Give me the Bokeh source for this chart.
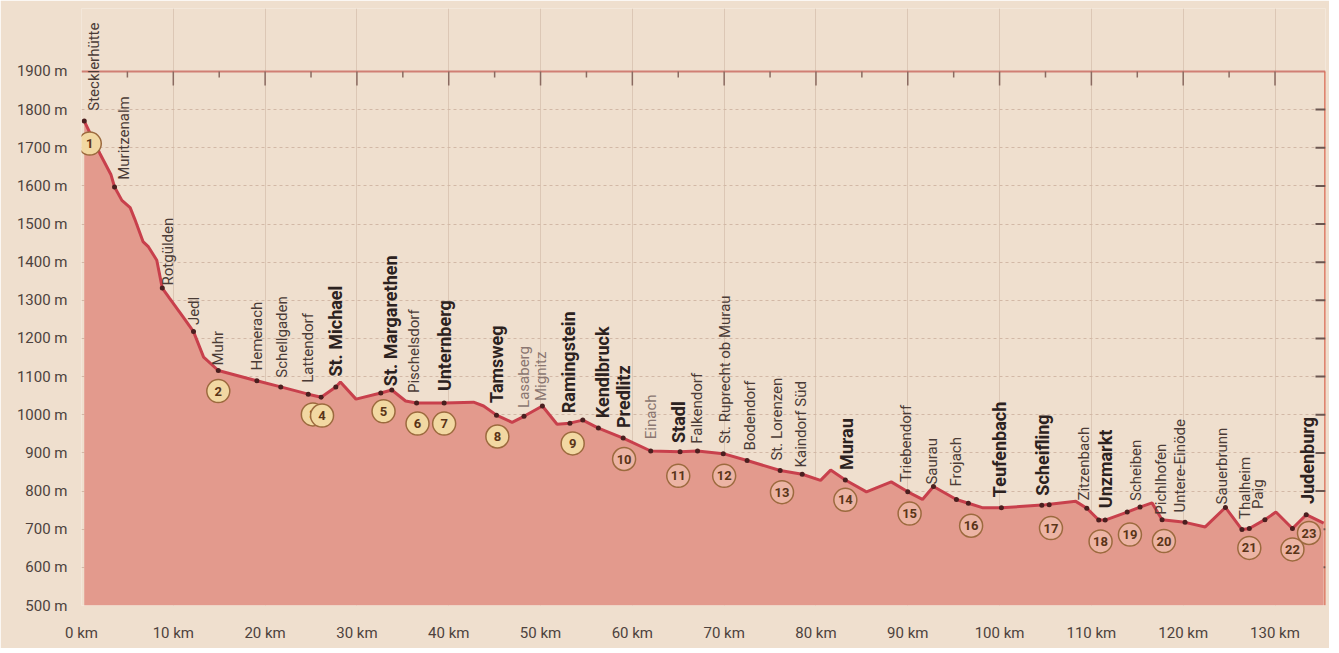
import math
from bokeh.plotting import figure
from bokeh.models import Range1d, FixedTicker, ColumnDataSource
from bokeh.core.properties import value
from bokeh.embed import file_html
from bokeh.resources import INLINE

# ---------------- data ----------------
profile_km = [0.3, 2.0, 3.2, 3.6, 4.4, 5.3, 5.8, 6.7, 7.3, 8.2, 8.8, 9.6, 11.1, 12.2, 13.3,
              14.9, 19.1, 21.7, 24.7, 26.1, 27.7, 28.2, 29.9, 32.6, 33.8, 35.3, 36.5, 39.5,
              42.7, 43.8, 45.2, 46.9, 48.2, 50.2, 51.8, 53.2, 54.6, 56.3, 59.0, 62.0, 65.2,
              67.1, 69.9, 72.5, 76.1, 78.5, 80.5, 81.6, 83.2, 85.5, 88.2, 90.0, 91.6, 92.8,
              95.3, 96.6, 98.2, 100.2, 105.0, 108.3, 109.5, 110.8, 111.5, 113.9, 115.3,
              116.6, 117.7, 120.2, 122.4, 124.6, 126.4, 127.2, 128.9, 130.1, 131.9, 133.4,
              135.3]
profile_elev = [1770, 1685, 1630, 1597, 1562, 1543, 1513, 1454, 1440, 1405, 1332, 1305, 1255,
                1218, 1151, 1116, 1089, 1073, 1054, 1046, 1073, 1086, 1041, 1057, 1065, 1036,
                1031, 1031, 1033, 1023, 999, 980, 996, 1023, 975, 978, 986, 965, 939, 905, 903,
                905, 898, 880, 854, 844, 828, 855, 829, 798, 824, 798, 778, 812, 778, 768, 756,
                756, 764, 773, 755, 724, 724, 745, 758, 769, 725, 718, 706, 757, 699, 702, 725,
                745, 702, 738, 716]

dot_km = [0.3, 3.6, 8.8, 12.2, 14.9, 19.1, 21.7, 24.7, 26.1, 27.7, 32.6, 33.8, 36.5, 39.5,
          45.2, 48.2, 50.2, 53.2, 54.6, 56.3, 59.0, 62.0, 65.2, 67.1, 69.9, 72.5, 76.1, 78.5,
          83.2, 90.0, 92.8, 95.3, 96.6, 100.2, 104.6, 105.4, 109.5, 110.8, 111.5, 113.9,
          115.3, 117.7, 120.2, 124.6, 126.4, 127.2, 128.9, 131.9, 133.4]
dot_elev = [1770, 1597, 1332, 1218, 1116, 1089, 1073, 1054, 1046, 1073, 1057, 1065, 1031, 1031,
            999, 996, 1023, 978, 986, 965, 939, 905, 903, 905, 898, 880, 854, 844,
            829, 798, 812, 778, 768, 756, 763, 764, 755, 724, 724, 745,
            758, 725, 718, 757, 699, 702, 725, 702, 738]

stage_num = list(range(1, 24))
stage_km = [0.9, 14.9, 25.2, 26.2, 32.9, 36.6, 39.5, 45.3, 53.5, 59.1, 65.0, 70.0, 76.3,
            83.2, 90.2, 96.9, 105.6, 111.0, 114.2, 117.9, 127.2, 131.9, 133.7]
stage_elev = [1711, 1062, 1001, 998, 1009, 977, 977, 943, 925, 884, 840, 840, 797,
              777, 741, 709, 703, 668, 686, 669, 651, 647, 690]

place_names = ["Stecklerhütte", "Muritzenalm", "Rotgülden", "Jedl", "Muhr", "Hemerach",
               "Schellgaden", "Lattendorf", "St. Michael", "St. Margarethen", "Pischelsdorf",
               "Unternberg", "Tamsweg", "Lasaberg", "Mignitz", "Ramingstein", "Kendlbruck",
               "Predlitz", "Einach", "Stadl", "Falkendorf", "St. Ruprecht ob Murau",
               "Bodendorf", "St. Lorenzen", "Kaindorf Süd", "Murau", "Triebendorf", "Saurau",
               "Frojach", "Teufenbach", "Scheifling", "Zitzenbach", "Unzmarkt", "Scheiben",
               "Pichlhofen", "Untere-Einöde", "Sauerbrunn", "Thalheim", "Paig", "Judenburg"]
place_km = [1.4, 4.6, 9.4, 12.3, 14.9, 19.1, 21.8, 24.7, 27.7, 33.7, 36.2, 39.5, 45.2, 48.2,
            50.1, 53.0, 56.7, 59.0, 62.0, 65.0, 67.0, 70.1, 72.8, 75.8, 78.4, 83.3, 89.8,
            92.6, 95.3, 100.0, 104.7, 109.2, 111.5, 114.9, 117.6, 119.7, 124.2, 126.7,
            128.2, 133.5]
place_elev = [1797, 1616, 1339, 1235, 1129, 1116, 1097, 1084, 1100, 1075, 1057, 1062, 1031,
              1018, 1036, 1004, 991, 965, 936, 926, 924, 924, 906, 880, 862, 855, 824, 817,
              812, 784, 788, 775, 755, 774, 738, 744, 765, 727, 753, 766]
major_towns = ["St. Michael", "St. Margarethen", "Unternberg", "Tamsweg", "Ramingstein",
               "Kendlbruck", "Predlitz", "Stadl", "Murau", "Teufenbach", "Scheifling",
               "Unzmarkt", "Judenburg"]
faint_places = ["Lasaberg", "Mignitz", "Einach"]

x_tick_values = [0, 10, 20, 30, 40, 50, 60, 70, 80, 90, 100, 110, 120, 130]
x_tick_labels = ["0 km", "10 km", "20 km", "30 km", "40 km", "50 km", "60 km", "70 km",
                 "80 km", "90 km", "100 km", "110 km", "120 km", "130 km"]
y_tick_values = [500, 600, 700, 800, 900, 1000, 1100, 1200, 1300, 1400, 1500, 1600, 1700,
                 1800, 1900]
y_tick_labels = ["500 m", "600 m", "700 m", "800 m", "900 m", "1000 m", "1100 m", "1200 m",
                 "1300 m", "1400 m", "1500 m", "1600 m", "1700 m", "1800 m", "1900 m"]

# ---------------- layout / style ----------------
X_MAX = 135.5
BASE = 500
FRAME_TOP = 1900
Y_TOP = 2065
FONT = "Roboto"
BG = "#efdfce"
FRAME_W = 1244
FRAME_H = 597
PX_PER_M = FRAME_H / (Y_TOP - BASE)
PX_PER_KM = FRAME_W / X_MAX

p = figure(width=81 + FRAME_W + 4, height=8 + FRAME_H + 43,
           x_range=Range1d(0, X_MAX), y_range=Range1d(BASE, Y_TOP),
           output_backend="svg", toolbar_location=None,
           min_border_left=81, min_border_right=4, min_border_top=8, min_border_bottom=43)
p.background_fill_color = BG
p.border_fill_color = BG
p.outline_line_color = None

# axes
for ax in (p.xaxis, p.yaxis):
    ax.axis_line_color = None
    ax.major_tick_line_color = None
    ax.minor_tick_line_color = None
    ax.major_label_text_font = FONT
    ax.major_label_text_font_size = "15px"
    ax.major_label_text_color = "#4d423d"
p.xaxis.ticker = FixedTicker(ticks=x_tick_values)
p.xaxis.major_label_overrides = dict(zip(x_tick_values, x_tick_labels))
p.xaxis.major_label_standoff = 12
p.yaxis.ticker = FixedTicker(ticks=y_tick_values)
p.yaxis.major_label_overrides = dict(zip(y_tick_values, y_tick_labels))
p.yaxis.major_label_standoff = 8

# grids
p.xgrid.ticker = FixedTicker(ticks=x_tick_values[1:])
p.xgrid.bounds = (BASE, FRAME_TOP)
p.xgrid.grid_line_color = "#dcc7b5"
p.xgrid.grid_line_width = 1
p.ygrid.ticker = FixedTicker(ticks=y_tick_values[1:-1])
p.ygrid.bounds = (0, X_MAX)
p.ygrid.grid_line_color = "#d2b8a6"
p.ygrid.grid_line_dash = "3 3"
p.ygrid.grid_line_width = 1

# frame: top line at 1900 and right edge line, with ticks
p.segment(x0=[0], y0=[FRAME_TOP], x1=[X_MAX], y1=[FRAME_TOP], line_color="#d07f74", line_width=2)
p.segment(x0=[X_MAX], y0=[BASE], x1=[X_MAX], y1=[FRAME_TOP], line_color="#d9674f", line_width=2.5)
top_tick_x = [k for k in range(5, int(X_MAX), 5)]
top_tick_len = [(14 if k % 10 == 0 else 6) / PX_PER_M for k in top_tick_x]
p.segment(x0=top_tick_x, y0=[FRAME_TOP] * len(top_tick_x), x1=top_tick_x,
          y1=[FRAME_TOP - L for L in top_tick_len], line_color="#8a6a60", line_width=1.5)
right_tick_y = y_tick_values[1:-1]
p.segment(x0=[X_MAX] * len(right_tick_y), y0=right_tick_y,
          x1=[X_MAX - 10 / PX_PER_KM] * len(right_tick_y), y1=right_tick_y,
          line_color="#6b5650", line_width=2)

# profile area & line
p.varea(x=profile_km, y1=BASE, y2=profile_elev, fill_color="#e39a8d")
p.line(profile_km, profile_elev, line_color="#c8404c", line_width=3)
p.scatter(dot_km, dot_elev, size=5, marker="circle", fill_color="#4a1f1f", line_color=None)

# place labels
def subset(names_filter):
    idx = [i for i, n in enumerate(place_names) if names_filter(n)]
    return ColumnDataSource(dict(x=[place_km[i] for i in idx], y=[place_elev[i] for i in idx],
                                 t=[place_names[i] for i in idx]))

common = dict(angle=math.pi / 2, text_align="left", text_baseline="middle",
              text_font=value(FONT))
p.text(x="x", y="y", text="t", source=subset(lambda n: n in major_towns),
       text_font_size="18px", text_font_style="bold", text_color="#2c2220", **common)
p.text(x="x", y="y", text="t",
       source=subset(lambda n: n not in major_towns and n not in faint_places),
       text_font_size="15px", text_color="#4a3b36", **common)
p.text(x="x", y="y", text="t", source=subset(lambda n: n in faint_places),
       text_font_size="15px", text_color="#8a7670", **common)

# numbered stage circles
for n, k, e in zip(stage_num, stage_km, stage_elev):
    fill = "#f2d8a2" if n <= 9 else "#ecb4a4"
    p.scatter([k], [e], size=23, marker="circle", fill_color=fill,
              line_color="#9c6a3e", line_width=1.5)
    p.text([k], [e], [str(n)], text_align="center", text_baseline="middle",
           text_font=value(FONT), text_font_size="13px", text_font_style="bold",
           text_color="#5a3418")

open("out.html", "w").write(file_html(p, INLINE))
